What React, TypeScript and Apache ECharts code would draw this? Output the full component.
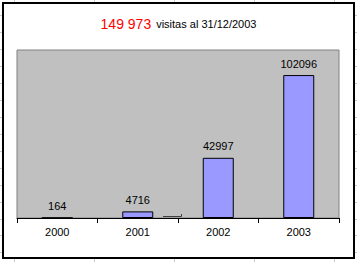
import React, { useEffect, useRef } from "react";
import * as echarts from "echarts";

const categories = ["2000", "2001", "2002", "2003"];
const visits = [164, 4716, 42997, 102096];
const titleTotal = "149 973";
const titleRest = "visitas al 31/12/2003";
const yMax = 120000;

// decorative spreadsheet grid behind the chart
const sheetCols = [14, 94, 174, 254, 334];
const sheetRows = [15, 32, 49, 66, 83, 100, 117, 134, 151, 168, 185, 202, 219, 235, 252];

export default function App() {
  const ref = useRef<HTMLDivElement>(null);
  useEffect(() => {
    document.body.style.margin = "0";
    const chart = echarts.init(ref.current!, null, { renderer: "svg" });
    const W = 357, H = 262;
    const bg: any[] = [];
    sheetCols.forEach((x) =>
      bg.push({ type: "line", z: -10, shape: { x1: x + 0.5, y1: 0, x2: x + 0.5, y2: H }, style: { stroke: "#c8c8c8", lineWidth: 1 } })
    );
    sheetRows.forEach((y) =>
      bg.push({ type: "line", z: -10, shape: { x1: 0, y1: y + 0.5, x2: W, y2: y + 0.5 }, style: { stroke: "#c8c8c8", lineWidth: 1 } })
    );
    bg.push({ type: "rect", z: -5, shape: { x: 3, y: 3, width: 351, height: 255 }, style: { fill: "#ffffff", stroke: "#000000", lineWidth: 2 } });
    bg.push({ type: "polyline", z: 100, shape: { points: [[163, 216.5], [181.5, 216.5], [181.5, 214]] }, style: { stroke: "#404040", lineWidth: 1, fill: null } });

    const font = "Liberation Sans, Arial, sans-serif";
    chart.setOption({
      animation: false,
      backgroundColor: "#ffffff",
      title: {
        left: "center",
        top: 10,
        text: `{a|${titleTotal}} {b|${titleRest}}`,
        textStyle: {
          fontWeight: "normal",
          rich: {
            a: { color: "#ff0000", fontSize: 14, fontWeight: "normal", fontFamily: font },
            b: { color: "#000000", fontSize: 11, fontWeight: "normal", fontFamily: font },
          },
        },
      },
      graphic: bg,
      grid: {
        left: 17,
        right: 18,
        top: 50,
        bottom: 44,
        show: true,
        backgroundColor: "#c0c0c0",
        borderColor: "#808080",
        borderWidth: 1,
      },
      xAxis: {
        type: "category",
        data: categories,
        boundaryGap: true,
        axisLine: { lineStyle: { color: "#000000", width: 1 } },
        axisTick: { show: true, length: 5, lineStyle: { color: "#000000" } },
        axisLabel: { color: "#000000", fontSize: 11, margin: 8, fontFamily: font },
      },
      yAxis: {
        type: "value",
        min: 0,
        max: yMax,
        show: false,
        splitLine: { show: false },
      },
      series: [
        {
          type: "bar",
          data: visits,
          barWidth: 31,
          itemStyle: { color: "#9999ff", borderColor: "#000000", borderWidth: 1 },
          label: {
            show: true,
            position: "top",
            distance: 6,
            color: "#000000",
            fontSize: 11,
            fontFamily: font,
          },
        },
      ],
    });
    return () => chart.dispose();
  }, []);
  return <div ref={ref} style={{ width: 357, height: 262 }} />;
}
